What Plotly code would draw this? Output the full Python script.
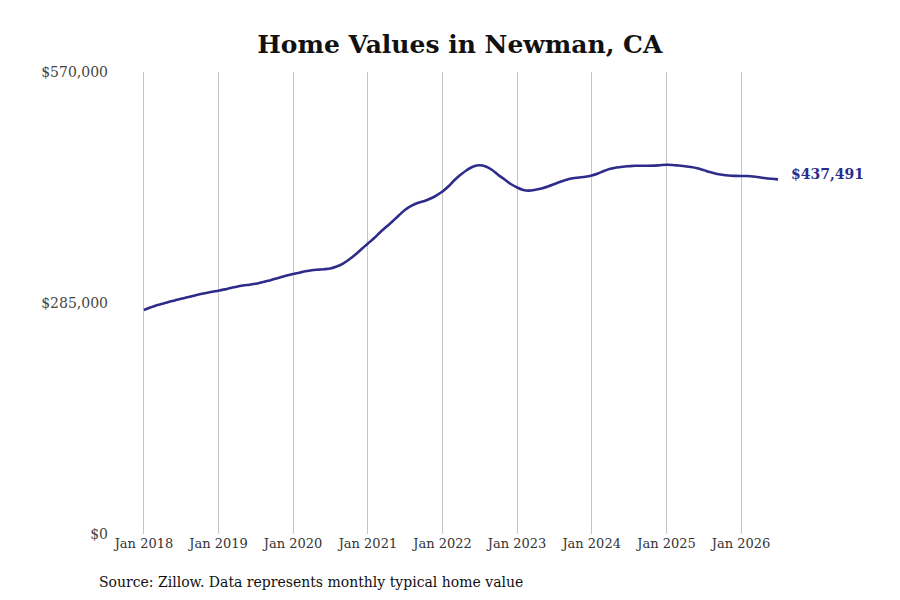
import plotly.graph_objects as go
import pandas as pd

# monthly typical home value, Jan 2018 - Jul 2026
months = pd.date_range("2018-01-01", "2026-07-01", freq="MS")
values = [
    276400, 279400, 281900, 284000, 286200, 288200, 290200, 292000, 293900, 295700, 297300, 298800,
    300200, 301800, 303500, 305100, 306600, 307600, 308700, 310500, 312400, 314600, 316800, 318900,
    320800, 322400, 324100, 325500, 326200, 326700, 327600, 330000, 333700, 338700, 344800, 351600,
    358400, 365200, 372000, 379000, 385600, 393000, 399700, 404700, 408400, 410600, 413600, 417600,
    422600, 429400, 436800, 443500, 449100, 453400, 455000, 453400, 449100, 442900, 437400, 431800,
    427500, 424400, 423700, 424800, 426300, 428700, 431600, 434500, 437200, 438900, 439800, 440700,
    442300, 444800, 447900, 450600, 452200, 453200, 453800, 454300, 454300, 454300, 454500, 455000,
    455500, 455300, 454600, 453800, 452800, 451300, 449100, 446600, 444500, 443200, 442300, 441900,
    441700, 441600, 441100, 440100, 439000, 438200, 437491,
]
tick_dates = pd.date_range("2018-01-01", "2026-01-01", freq="YS")
tick_labels = [d.strftime("Jan %Y") for d in tick_dates]
y_ticks = [0, 285000, 570000]
y_labels = ["$0", "$285,000", "$570,000"]

line_color = "#2e2c8a"

fig = go.Figure()
fig.add_trace(go.Scatter(
    x=months, y=values, mode="lines",
    line=dict(color=line_color, width=2.6, shape="spline"),
    hoverinfo="x+y",
))

# end-of-line value label
fig.add_annotation(
    x=months[-1], y=values[-1], text="<b>${:,}</b>".format(values[-1]),
    xanchor="left", xshift=11, yshift=5, showarrow=False,
    font=dict(family="DejaVu Serif", size=14, color=line_color),
)
fig.add_annotation(
    xref="paper", yref="paper", x=-0.0172, y=-0.104,
    text="Source: Zillow. Data represents monthly typical home value",
    xanchor="left", yanchor="middle", showarrow=False,
    font=dict(family="DejaVu Serif", size=14, color="#111"),
)

fig.update_layout(
    width=900, height=600,
    paper_bgcolor="white", plot_bgcolor="white",
    margin=dict(l=101, r=103, t=64, b=74),
    showlegend=False,
    font=dict(family="DejaVu Serif", color="#333"),
    title=dict(text="<b>Home Values in Newman, CA</b>", x=0.502, xanchor="center",
               y=0.94, yanchor="middle",
               font=dict(family="DejaVu Serif", size=25, color="#111")),
)
fig.update_xaxes(
    range=["2017-07-14", "2026-11-10"],
    tickvals=tick_dates, ticktext=tick_labels,
    showgrid=True, gridcolor="#c4c4c4", gridwidth=1,
    showline=False, zeroline=False, ticks="",
    tickfont=dict(size=13, color="#333"),
)
fig.update_yaxes(
    range=[0, 570000], tickvals=y_ticks, ticktext=y_labels,
    showgrid=False, zeroline=False, showline=False, ticks="",
    tickfont=dict(size=14, color="#444"),
)

fig.write_html("out.html")
